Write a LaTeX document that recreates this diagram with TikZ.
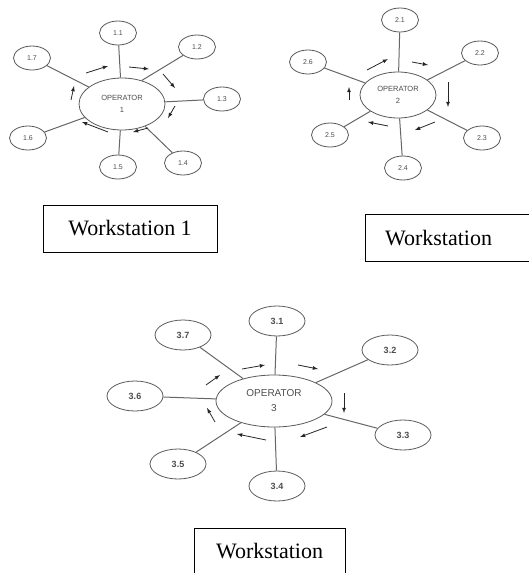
\documentclass[tikz,border=0pt]{standalone}
\usepackage{fontspec}
\setmainfont{Liberation Serif}
\newfontfamily\labelfont{Liberation Sans}
\usetikzlibrary{arrows,shapes.geometric}

\begin{document}
\begin{tikzpicture}[x=1pt,y=-1pt]
\tikzstyle{every node}=[inner sep=1pt, ellipse, draw=black!65, line width=.8pt, text=black!70]
\tikzstyle{sat}=[minimum width=37pt, minimum height=24pt, font=\labelfont\fontsize{7}{8}\selectfont]
\tikzstyle{bigsat}=[minimum width=56pt, minimum height=30pt, font=\labelfont\bfseries\fontsize{9}{10}\selectfont]
\tikzstyle{oper}=[align=center, font=\labelfont\fontsize{7.5}{12}\selectfont]
\tikzstyle{spoke}=[draw=black!60, line width=1pt]
\tikzstyle{flow}=[-latex, black!85, line width=.8pt]
\tikzstyle{wsbox}=[rectangle, draw=black, line width=1pt, text=black, inner sep=0pt, minimum height=47pt, font=\fontsize{22}{24}\selectfont]
\useasboundingbox (0,0) rectangle (528,573);
% workstation 1
\draw (122,104) node (op1) [oper, minimum width=86pt, minimum height=52pt] {OPERATOR\\1};
\draw (118,33) node (s11) [sat] {1.1};
\draw (197,47) node (s12) [sat] {1.2};
\draw (222,99) node (s13) [sat] {1.3};
\draw (183,163) node (s14) [sat] {1.4};
\draw (118,167) node (s15) [sat] {1.5};
\draw (28,138) node (s16) [sat] {1.6};
\draw (32,58) node (s17) [sat] {1.7};
\draw [spoke] (s11) -- (op1);
\draw [spoke] (s12) -- (op1.50);
\draw [spoke] (s13) -- (op1);
\draw [spoke] (s14) -- (op1);
\draw [spoke] (s15) -- (op1);
\draw [spoke] (s16) -- (op1);
\draw [spoke] (s17) -- (op1);
\draw [flow] (86,73) -- (108,66);
\draw [flow] (129,67) -- (149,69);
\draw [flow] (163,74) -- (175,88);
\draw [flow] (175,106) -- (168,118);
\draw [flow] (148,128) -- (133,132);
\draw [flow] (108,132) -- (82,122);
\draw [flow] (71,100) -- (74,86);
\node (ws1) [wsbox, minimum width=174pt] at (130,228.5) {Workstation 1};
% workstation 2
\draw (398,95) node (op2) [oper, minimum width=76pt, minimum height=46pt] {OPERATOR\\2};
\draw (400,20) node (s21) [sat] {2.1};
\draw (480,53) node (s22) [sat] {2.2};
\draw (482,138) node (s23) [sat] {2.3};
\draw (403,168) node (s24) [sat] {2.4};
\draw (330,135) node (s25) [sat] {2.5};
\draw (308,62) node (s26) [sat] {2.6};
\draw [spoke] (s21) -- (op2);
\draw [spoke] (s22) -- (op2);
\draw [spoke] (s23) -- (op2);
\draw [spoke] (s24) -- (op2);
\draw [spoke] (s25) -- (op2);
\draw [spoke] (s26) -- (op2);
\draw [flow] (367,70) -- (388,59);
\draw [flow] (412,62) -- (428,65);
\draw [flow] (448,82) -- (448,107);
\draw [flow] (435,122) -- (415,130);
\draw [flow] (388,126) -- (368,122);
\draw [flow] (349,100) -- (349,87);
\node (ws2) [wsbox, minimum width=175pt, text width=135pt, inner xsep=20pt, align=left] at (452.5,238) {Workstation};
% workstation 3
\draw (274,401) node (op3) [oper, minimum width=116pt, minimum height=52pt, font=\labelfont\fontsize{10}{15}\selectfont] {OPERATOR\\3};
\draw (277,321) node (s31) [sat, bigsat] {3.1};
\draw (390,350) node (s32) [sat, bigsat] {3.2};
\draw (403,435) node (s33) [sat, bigsat] {3.3};
\draw (277,486) node (s34) [sat, bigsat] {3.4};
\draw (178,464) node (s35) [sat, bigsat] {3.5};
\draw (135,396) node (s36) [sat, bigsat] {3.6};
\draw (183,335) node (s37) [sat, bigsat] {3.7};
\draw [spoke] (s31) -- (op3);
\draw [spoke] (s32) -- (op3);
\draw [spoke] (s33) -- (op3);
\draw [spoke] (s34) -- (op3);
\draw [spoke] (s35) -- (op3);
\draw [spoke] (s36) -- (op3);
\draw [spoke] (s37) -- (op3);
\draw [flow] (242,369) -- (265,365);
\draw [flow] (298,365) -- (318,369);
\draw [flow] (344,393) -- (344,413);
\draw [flow] (327,427) -- (300,437);
\draw [flow] (266,440) -- (237,434);
\draw [flow] (215,422) -- (207,408);
\draw [flow] (206,385) -- (220,375);
\node (ws3) [wsbox, minimum width=151pt] at (269.5,551.5) {Workstation};
\end{tikzpicture}
\end{document}
